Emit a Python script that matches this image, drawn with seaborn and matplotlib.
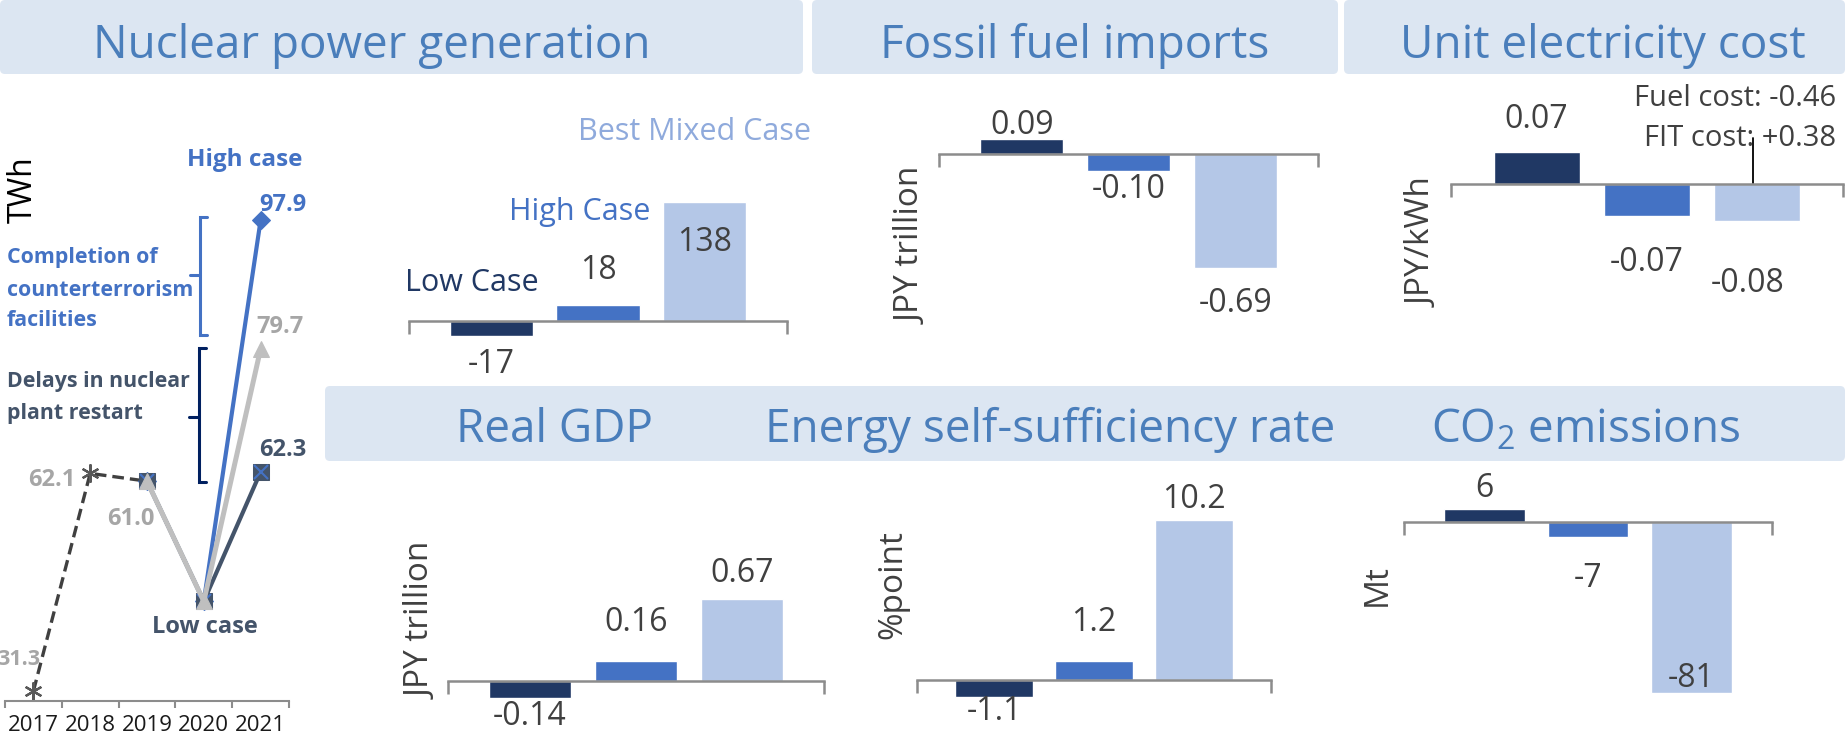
import seaborn as sns
import matplotlib.pyplot as plt
from matplotlib.patches import FancyBboxPatch

# data
cases = ["Low Case", "High Case", "Best Mixed Case"]
nuclear_diff = [-17, 18, 138]          # TWh
fossil_imports = [0.09, -0.10, -0.69]  # JPY trillion
unit_cost = [0.07, -0.07, -0.08]       # JPY/kWh
real_gdp = [-0.14, 0.16, 0.67]         # JPY trillion
self_suff = [-1.1, 1.2, 10.2]          # %point
co2 = [6, -7, -81]                     # Mt

years = [2017, 2018, 2019, 2020, 2021]
hist_years = [2017, 2018, 2019]
hist_twh = [31.3, 62.1, 61.0]
case_years = [2019, 2020, 2021]
low_twh = [61.0, 44.0, 62.3]
high_twh = [61.0, 44.0, 97.9]
best_twh = [61.0, 44.0, 79.7]

# colours
navy, blue, light = "#203864", "#4472c4", "#b4c7e7"
slate, grey_lab = "#44546a", "#a6a6a6"
title_c, box_c, txt = "#4a7ebb", "#dce6f2", "#404040"
axis_gray = "#8c8c8c"

sns.set_theme(style="white")
plt.rcParams["font.family"] = ["Open Sans", "DejaVu Sans"]
plt.rcParams["mathtext.fontset"] = "custom"
plt.rcParams["mathtext.rm"] = "Open Sans"

W, H = 1845, 743
fig = plt.figure(figsize=(W / 100, H / 100), dpi=100)

# overlay in pixel units for boxes / free text
ov = fig.add_axes([0, 0, 1, 1])
ov.set_xlim(0, W)
ov.set_ylim(H, 0)
ov.axis("off")


def box(x0, y0, x1, y1):
    ov.add_patch(FancyBboxPatch((x0, y0), x1 - x0, y1 - y0,
                                boxstyle="round,pad=0,rounding_size=5",
                                fc=box_c, ec="none"))


box(0, 0, 803, 74)
box(812, 0, 1338, 74)
box(1344, 0, 1845, 74)
box(325, 386, 1845, 461)

hd = dict(fontsize=33, color=title_c, ha="center", va="center")
ov.text(372, 46, "Nuclear power generation", **hd)
ov.text(1075, 46, "Fossil fuel imports", **hd)
ov.text(1603, 46, "Unit electricity cost", **hd)
ov.text(555, 430, "Real GDP", **hd)
ov.text(1050, 430, "Energy self-sufficiency rate", **hd)
ov.text(1586, 430, "CO$_2$ emissions", **hd)


def rect(x0, x1, ytop, ybot):
    return [x0 / W, 1 - ybot / H, (x1 - x0) / W, (ybot - ytop) / H]


def bar_panel(vals, x0, x1, ytop, ybot, zero, scale, fmt, offs, xoffs=(0, 0, 0)):
    ax = fig.add_axes(rect(x0, x1, ytop, ybot))
    ax.set_facecolor("none")
    sns.barplot(x=cases, y=vals, hue=cases, palette=[navy, blue, light],
                width=0.78, saturation=1, legend=False, ax=ax)
    ax.set_xlim(-0.775, 2.775)
    ax.set_ylim(-(ybot - zero) / scale, (zero - ytop) / scale)
    for s in ["left", "right", "top"]:
        ax.spines[s].set_visible(False)
    ax.spines["bottom"].set_position(("data", 0))
    ax.spines["bottom"].set_color(axis_gray)
    ax.spines["bottom"].set_linewidth(1.8)
    ax.set_xticks([-0.775, 2.775])
    ax.set_xticklabels([])
    ax.tick_params(axis="x", length=9, width=1.8, color=axis_gray,
                   direction="out", bottom=True)
    ax.set_yticks([])
    ax.set_xlabel("")
    ax.set_ylabel("")
    for i, (v, o, xo) in enumerate(zip(vals, offs, xoffs)):
        ax.annotate(fmt.format(v), (i, v), xytext=(xo * 0.72, o * 0.72),
                    textcoords="offset points", ha="center", va="center",
                    fontsize=23, color=txt)
    return ax


bar_panel(nuclear_diff, 409, 787, 90, 380, 321, 0.862, "{:.0f}", [-29, 35, -40])
bar_panel(fossil_imports, 939, 1318, 90, 340, 154, 165, "{:.2f}", [14, -19, -36])
bar_panel(unit_cost, 1451, 1843, 90, 340, 184, 460, "{:.2f}", [32, -46, -63], (0, 0, -10))
bar_panel(real_gdp, 448, 824, 480, 735, 681, 122, "{:.2f}", [-18, 39, 26])
bar_panel(self_suff, 917, 1271, 480, 735, 680, 15.7, "{:.1f}", [-14, 39, 20])
bar_panel(co2, 1404, 1772, 475, 735, 522, 2.11, "{:.0f}", [21, -42, 14])

# case labels on nuclear panel
ov.text(405, 283, "Low Case", fontsize=22, color=navy, ha="left", va="center")
ov.text(580, 212, "High Case", fontsize=22, color=blue, ha="center", va="center")
ov.text(694, 132, "Best Mixed Case", fontsize=22, color="#8faadc", ha="center", va="center")

# unit labels
ul = dict(fontsize=24, color=txt, rotation=90, ha="center", va="center")
ov.text(912, 246, "JPY trillion", **ul)
ov.text(1423, 243, "JPY/kWh", **ul)
ov.text(422, 621, "JPY trillion", **ul)
ov.text(893, 585, "%point", **ul)
ov.text(1377, 585, "Mt", **ul)

# fuel / FIT note
ov.text(1836, 98, "Fuel cost: -0.46", fontsize=21, color=txt, ha="right", va="center")
ov.text(1836, 138, "FIT cost: +0.38", fontsize=21, color=txt, ha="right", va="center")
ov.plot([1753, 1753], [138, 185], color="black", lw=1.3)

# line chart: nuclear generation
axl = fig.add_axes(rect(5, 289, 120, 701))
axl.set_facecolor("none")
sns.lineplot(x=hist_years, y=hist_twh, ax=axl, color="#404040", lw=2.4,
             linestyle=(0, (3.5, 1.8)), marker=(6, 2, 0), markersize=13,
             markeredgecolor="#595959", markeredgewidth=1.6, markevery=[0, 1])
sns.lineplot(x=case_years, y=high_twh, ax=axl, color=blue, lw=3,
             marker="D", markersize=9, markeredgecolor=blue)
sns.lineplot(x=case_years, y=low_twh, ax=axl, color=slate, lw=3,
             marker="s", markersize=12, markeredgecolor=slate)
axl.plot(case_years, low_twh, ls="none", marker="x", ms=10, mew=1.5, color=blue)
sns.lineplot(x=case_years, y=best_twh, ax=axl, color="#bfbfbf", lw=3.6,
             marker="^", markersize=12, markeredgecolor="#bfbfbf")
axl.set_xlim(2016.5, 2021.5)
axl.set_ylim(29.9, 112.1)
for s in ["left", "right", "top"]:
    axl.spines[s].set_visible(False)
axl.spines["bottom"].set_color("#8c8c8c")
axl.spines["bottom"].set_linewidth(1.5)
axl.set_xticks([y - 0.5 for y in years] + [years[-1] + 0.5])
axl.set_xticklabels([])
axl.set_xticks(years, minor=True)
axl.set_xticklabels([str(y) for y in years], minor=True)
axl.tick_params(axis="x", which="major", length=5, width=1.5, color="#8c8c8c",
                direction="out", bottom=True)
axl.tick_params(axis="x", which="minor", length=0, pad=10, labelsize=16,
                labelcolor="#1a1a1a")
axl.set_yticks([])
axl.set_xlabel("")
axl.set_ylabel("")

pt = 0.72
lab = dict(textcoords="offset points", va="center", fontsize=17, fontweight="bold")
axl.annotate(f"{hist_twh[0]:.1f}", (2017, hist_twh[0]), xytext=(7 * pt, 32 * pt), ha="right",
             color=grey_lab, textcoords="offset points", va="center", fontsize=15.5, fontweight="bold")
axl.annotate(f"{hist_twh[1]:.1f}", (2018, hist_twh[1]), xytext=(-15 * pt, -7 * pt), ha="right", color=grey_lab, **lab)
axl.annotate(f"{hist_twh[2]:.1f}", (2019, hist_twh[2]), xytext=(-16 * pt, -38 * pt), ha="center", color=grey_lab, **lab)
axl.annotate(f"{high_twh[2]:.1f}", (2021, high_twh[2]), xytext=(-1 * pt, 15 * pt), ha="left", color=blue, **lab)
axl.annotate(f"{best_twh[2]:.1f}", (2021, best_twh[2]), xytext=(-4 * pt, 22 * pt), ha="left", color=grey_lab, **lab)
axl.annotate(f"{low_twh[2]:.1f}", (2021, low_twh[2]), xytext=(-1 * pt, 22 * pt), ha="left", color=slate, **lab)

ov.text(187, 160, "High case", fontsize=17.5, fontweight="bold", color=blue, ha="left", va="center")
ov.text(152, 627, "Low case", fontsize=17, fontweight="bold", color=slate, ha="left", va="center")
ov.text(23, 190, "TWh", fontsize=23, color="black", rotation=90, ha="center", va="center")

for s, y in zip(["Completion of", "counterterrorism", "facilities"], [258, 291, 321]):
    ov.text(7, y, s, fontsize=15.4, fontweight="bold", color=blue, ha="left", va="center")
for s, y in zip(["Delays in nuclear", "plant restart"], [382, 414]):
    ov.text(7, y, s, fontsize=15.4, fontweight="bold", color=slate, ha="left", va="center")

# brackets
for x, y0, y1, ym, c in [(200, 217, 335, 275, blue), (199, 348, 482, 417, "#002060")]:
    ov.plot([x + 7, x, x, x + 7], [y0, y0, y1, y1], color=c, lw=2.2, solid_joinstyle="miter")
    ov.plot([x - 10, x], [ym, ym], color=c, lw=2.2)

fig.savefig("out.png", dpi=100)
